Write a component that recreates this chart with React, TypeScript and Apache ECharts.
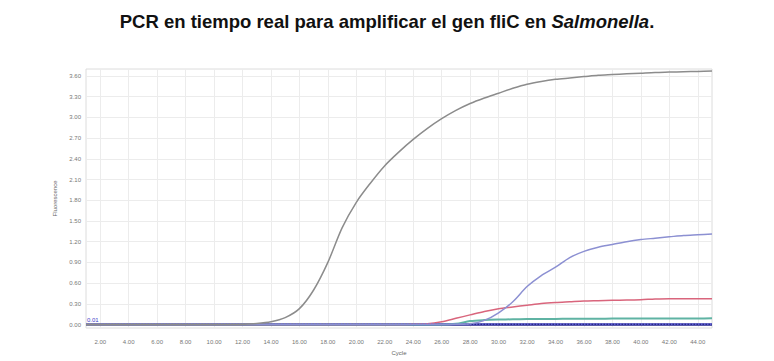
import React, { useEffect, useRef } from "react";
import * as echarts from "echarts";

const cycles: number[] = Array.from({ length: 45 }, (_, i) => i + 1);

const xTickValues = [2, 4, 6, 8, 10, 12, 14, 16, 18, 20, 22, 24, 26, 28, 30, 32, 34, 36, 38, 40, 42, 44];
const yTickValues = [0, 0.3, 0.6, 0.9, 1.2, 1.5, 1.8, 2.1, 2.4, 2.7, 3.0, 3.3, 3.6];

const graySample = [
  0, 0, 0, 0, 0, 0, 0, 0, 0, 0, 0, 0.005, 0.015, 0.04, 0.1, 0.23, 0.5, 0.9, 1.4, 1.77,
  2.05, 2.3, 2.5, 2.68, 2.84, 2.98, 3.1, 3.2, 3.28, 3.35, 3.42, 3.48, 3.52, 3.55, 3.57,
  3.59, 3.61, 3.62, 3.63, 3.64, 3.65, 3.655, 3.66, 3.665, 3.67,
];
const blueSample = [
  0, 0, 0, 0, 0, 0, 0, 0, 0, 0, 0, 0, 0, 0, 0, 0, 0, 0, 0, 0,
  0, 0, 0, 0, 0, 0, 0.003, 0.01, 0.06, 0.17, 0.33, 0.55, 0.71, 0.83, 0.97,
  1.06, 1.12, 1.16, 1.2, 1.23, 1.25, 1.27, 1.29, 1.3, 1.31,
];
const redSample = [
  0, 0, 0, 0, 0, 0, 0, 0, 0, 0, 0, 0, 0, 0, 0, 0, 0, 0, 0, 0,
  0, 0, 0, 0.003, 0.01, 0.04, 0.09, 0.14, 0.19, 0.23, 0.255, 0.28, 0.305, 0.32, 0.33,
  0.34, 0.345, 0.35, 0.355, 0.36, 0.37, 0.375, 0.375, 0.375, 0.375,
];
const tealSample = [
  0, 0, 0, 0, 0, 0, 0, 0, 0, 0, 0, 0, 0, 0, 0, 0, 0, 0, 0, 0,
  0, 0, 0, 0, 0, 0, 0.01, 0.05, 0.065, 0.072, 0.076, 0.079, 0.081, 0.082, 0.083,
  0.084, 0.085, 0.086, 0.087, 0.087, 0.088, 0.088, 0.089, 0.089, 0.09,
];
const negativeControl = cycles.map(() => 0);
const THRESHOLD = 0.01;
const thresholdLabel = "0.01";

const fmt = (v: number) => v.toFixed(2);

export default function App() {
  const ref = useRef<HTMLDivElement>(null);
  useEffect(() => {
    if (!ref.current) return;
    const chart = echarts.init(ref.current, undefined, { renderer: "svg" });
    const pair = (arr: number[]) => cycles.map((c, i) => [c, arr[i]]);
    const lineSeries = (name: string, arr: number[], color: string, width: number, z: number) => ({
      name,
      type: "line",
      data: pair(arr),
      showSymbol: false,
      smooth: 0.3,
      z,
      lineStyle: { color, width },
      itemStyle: { color },
    });
    chart.setOption({
      animation: false,
      backgroundColor: "#ffffff",
      title: {
        text: "{b|PCR en tiempo real para amplificar el gen fliC en }{i|Salmonella}{b|.}",
        left: "center",
        top: 7,
        textStyle: {
          rich: {
            b: { fontFamily: "Liberation Sans", fontWeight: "bold", fontSize: 18.5, color: "#111" },
            i: { fontFamily: "Liberation Sans", fontWeight: "bold", fontStyle: "italic", fontSize: 18.5, color: "#111" },
          },
        },
      },
      grid: {
        left: 86,
        right: 62,
        top: 69,
        bottom: 31.5,
        show: true,
        borderColor: "#dcdcdc",
        borderWidth: 1,
      },
      xAxis: {
        type: "value",
        min: 1,
        max: 45,
        name: "Cycle",
        nameLocation: "middle",
        nameGap: 22,
        nameTextStyle: { fontSize: 6, color: "#666", fontFamily: "Liberation Sans" },
        axisLine: { show: false },
        axisTick: { show: false, customValues: xTickValues },
        axisLabel: {
          customValues: xTickValues,
          formatter: fmt,
          fontSize: 6,
          color: "#777",
          margin: 11,
          fontFamily: "Liberation Sans",
        },
        splitLine: { show: true, lineStyle: { color: "#ececec", width: 1 } },
      },
      yAxis: {
        type: "value",
        min: -0.05,
        max: 3.7,
        name: "Fluorescence",
        nameLocation: "middle",
        nameGap: 21,
        nameTextStyle: { fontSize: 6, color: "#666", fontFamily: "Liberation Sans" },
        axisLine: { show: false },
        axisTick: { show: false, customValues: yTickValues },
        axisLabel: {
          customValues: yTickValues,
          formatter: fmt,
          fontSize: 6,
          color: "#777",
          margin: 5,
          fontFamily: "Liberation Sans",
        },
        splitLine: { show: true, lineStyle: { color: "#ececec", width: 1 } },
      },
      series: [
        {
          ...lineSeries("Negative", negativeControl, "#26268f", 2.5, 2),
          markLine: {
            silent: true,
            symbol: "none",
            data: [{ yAxis: THRESHOLD }],
            lineStyle: { color: "#7070e0", type: "dotted", width: 1.5 },
            label: {
              show: true,
              position: "insideStartTop",
              formatter: thresholdLabel,
              color: "#4040c8",
              fontSize: 6,
              distance: 1,
            },
          },
        },
        lineSeries("Teal", tealSample, "#5fb3a3", 2, 3),
        lineSeries("Red", redSample, "#d9657c", 1.5, 4),
        lineSeries("Blue", blueSample, "#8c90d2", 1.5, 5),
        lineSeries("Gray", graySample, "#8c8c8c", 1.5, 6),
      ],
    });
    return () => chart.dispose();
  }, []);
  return (
    <div
      ref={ref}
      style={{ position: "fixed", left: 0, top: 0, width: 774, height: 361, background: "#fff" }}
    />
  );
}
